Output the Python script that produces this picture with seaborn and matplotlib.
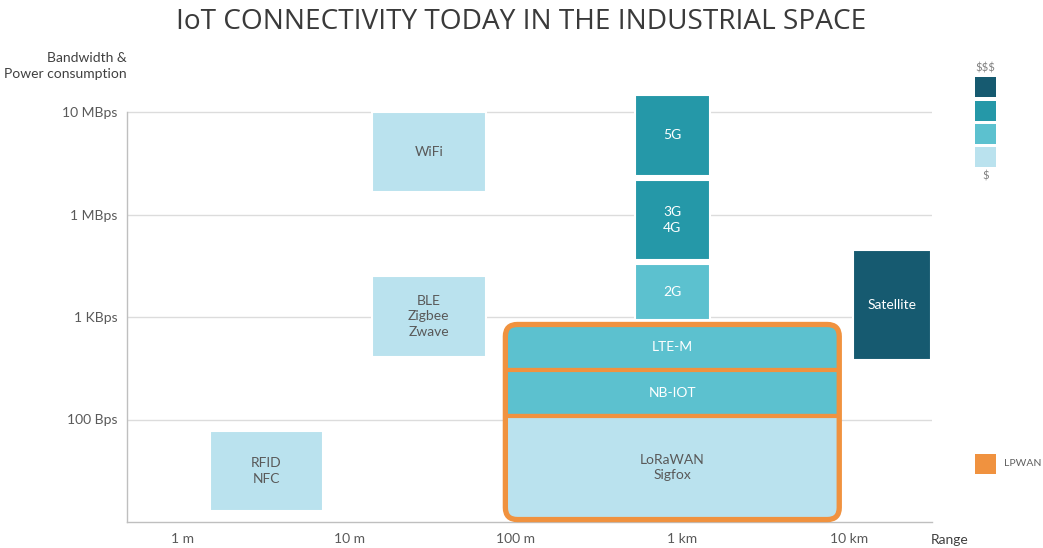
import numpy as np
import pandas as pd
import matplotlib
matplotlib.use("Agg")
import matplotlib.pyplot as plt
from matplotlib.patches import Rectangle, FancyBboxPatch
from matplotlib.transforms import IdentityTransform
import seaborn as sns

# --- data (ranges in metres, bandwidth as ordinal level: 0=axis, 1=100 Bps ... 4=10 MBps)
techs = ["WiFi", "BLE\nZigbee\nZwave", "RFID\nNFC", "5G", "3G\n4G", "2G",
         "Satellite", "LTE-M", "NB-IOT", "LoRaWAN\nSigfox"]
range_min_m = [13.6, 13.6, 1.45, 519, 519, 519, 10570, 86.5, 86.5, 86.5]
range_max_m = [66.1, 66.1, 6.93, 1462, 1462, 1462, 31050, 8770, 8770, 8770]
bw_low = [3.22, 1.61, 0.107, 3.376, 2.556, 1.971, 1.58, 1.483, 1.039, 0.024]
bw_high = [4.0, 2.40, 0.888, 4.166, 3.337, 2.517, 2.654, 1.927, 1.483, 1.039]
cost_tier = [0, 0, 0, 2, 2, 1, 3, 1, 1, 0]
is_lpwan = [False] * 7 + [True] * 3

range_ticks = [1, 10, 100, 1000, 10000]
range_labels = ["1 m", "10 m", "100 m", "1 km", "10 km"]
bw_ticks = [1, 2, 3, 4]
bw_labels = ["100 Bps", "1 KBps", "1 MBps", "10 MBps"]

cost_colors = ["#BAE2EE", "#5CC1CF", "#2598A8", "#165A70"]
orange = "#F0923F"
grey = "#595959"

df = pd.DataFrame({"tech": techs, "rmin": range_min_m, "rmax": range_max_m,
                   "lo": bw_low, "hi": bw_high, "tier": cost_tier, "lpwan": is_lpwan})

sns.set_theme(style="white")
plt.rcParams["font.family"] = ["Lato", "DejaVu Sans"]

W, H = 1043, 548
fig = plt.figure(figsize=(W / 100, H / 100), dpi=100)
ymax = 4.3
ax = fig.add_axes([127 / W, 26 / H, 805 / W, ymax * 102.5 / H])
ax.set_xscale("log")
ax.set_xlim(10 ** -0.336, 10 ** 4.5)
ax.set_ylim(0, ymax)

for yv in bw_ticks:
    ax.axhline(yv, color="#DCDCDC", lw=1, zorder=0)

ax.set_xticks(range_ticks)
ax.set_xticklabels(range_labels)
ax.set_yticks(bw_ticks)
ax.set_yticklabels(bw_labels)
ax.minorticks_off()
ax.tick_params(axis="both", length=0, labelsize=10, colors=grey)
ax.tick_params(axis="x", pad=8)
ax.tick_params(axis="y", pad=7)

sns.despine(ax=ax, top=True, right=True)
ax.spines["left"].set_bounds(0, 4)
for s in ["left", "bottom"]:
    ax.spines[s].set_color("#BFBFBF")
    ax.spines[s].set_linewidth(1)

# rounded LPWAN outline drawn in display coords so the corners stay round
fig.canvas.draw()
lp = df[df.lpwan]
(x0, y0) = ax.transData.transform((lp.rmin.min(), lp.lo.min()))
(x1, y1) = ax.transData.transform((lp.rmax.max(), lp.hi.max()))
outline = FancyBboxPatch((x0, y0), x1 - x0, y1 - y0,
                         boxstyle="round,pad=0,rounding_size=12",
                         facecolor="none", edgecolor=orange, lw=3.8,
                         transform=IdentityTransform(), zorder=5, clip_on=False)
fig.add_artist(outline)

for _, r in df.iterrows():
    edge = orange if r.lpwan else "white"
    lw = 3.0 if r.lpwan else 1.5
    rect = Rectangle((r.rmin, r.lo), r.rmax - r.rmin, r.hi - r.lo,
                     facecolor=cost_colors[r.tier], edgecolor=edge, lw=lw, zorder=2)
    ax.add_patch(rect)
    if r.lpwan:
        rect.set_clip_path(outline)
    cx = np.sqrt(r.rmin * r.rmax)
    cy = (r.lo + r.hi) / 2
    ax.text(cx, cy, r.tech, ha="center", va="center", fontsize=10,
            color=grey if r.tier == 0 else "white", linespacing=1.35, zorder=4)

# title and axis captions
fig.text(521 / W, 1 - 22 / H, "IoT CONNECTIVITY TODAY IN THE INDUSTRIAL SPACE",
         ha="center", va="center", fontsize=20.2, color="#3A3A3A",
         family=["Open Sans", "DejaVu Sans"])
fig.text(127 / W, 1 - 66 / H, "Bandwidth &\nPower consumption", ha="right", va="center",
         fontsize=10, color="#404040", linespacing=1.3, multialignment="right")
fig.text(931 / W, 1 - 540 / H, "Range", ha="left", va="center", fontsize=10, color="#404040")

# cost legend
tops = [77, 101, 124, 147]
for i, t in enumerate(tops):
    fig.add_artist(Rectangle((975 / W, 1 - (t + 20) / H), 21 / W, 20 / H,
                             facecolor=cost_colors[3 - i], edgecolor="none",
                             transform=fig.transFigure))
fig.text(985.5 / W, 1 - 68 / H, "$$$", ha="center", va="center", fontsize=8, color="#808080")
fig.text(985.5 / W, 1 - 176 / H, "$", ha="center", va="center", fontsize=8, color="#808080")

# LPWAN legend
fig.add_artist(Rectangle((975 / W, 1 - 474 / H), 21 / W, 20 / H, facecolor=orange,
                         edgecolor="none", transform=fig.transFigure))
fig.text(1004 / W, 1 - 464 / H, "LPWAN", ha="left", va="center", fontsize=7.5, color="#606060")

fig.savefig("out.png", dpi=100)
